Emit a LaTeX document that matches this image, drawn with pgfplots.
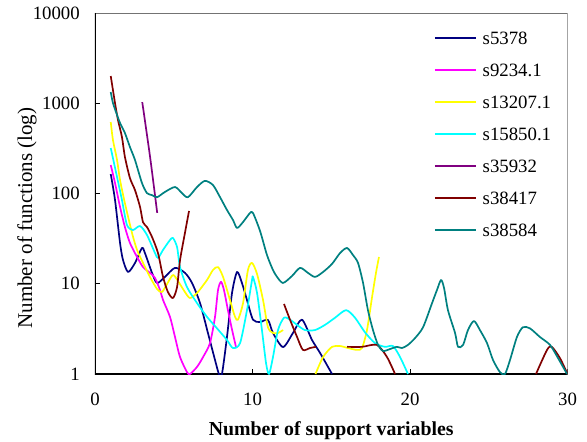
\documentclass[border=0pt]{standalone}
\usepackage{fontspec}
\setmainfont{Liberation Serif}
\usepackage{pgfplots}
\pgfplotsset{compat=1.18}
\definecolor{cNavy}{RGB}{0,0,128}
\definecolor{cMag}{RGB}{255,0,255}
\definecolor{cYel}{RGB}{255,255,0}
\definecolor{cCyan}{RGB}{0,255,255}
\definecolor{cPurp}{RGB}{128,0,128}
\definecolor{cDRed}{RGB}{128,0,0}
\definecolor{cTeal}{RGB}{0,128,128}
\newcommand\tickfont{\fontsize{18.8bp}{22bp}\selectfont}
\newcommand\xlabfont{\fontsize{19.8bp}{22bp}\selectfont\bfseries}
\newcommand\ylabfont{\fontsize{21bp}{24bp}\selectfont}
\begin{document}
\begin{tikzpicture}
\useasboundingbox (-95bp,-68bp) rectangle (492bp,374bp);
\begin{axis}[
  at={(0,0)}, anchor=south west,
  scale only axis, width=472.5bp, height=361bp,
  ymode=log, xmin=0, xmax=30, ymin=1, ymax=10000,
  xtick={0,10,20,30}, xticklabels={0,10,20,30},
  ytick={1,10,100,1000,10000}, yticklabels={1,10,100,1000,10000},
  yminorticks=false,
  tick align=inside, xtick pos=bottom, ytick pos=left,
  major tick length=5bp,
  tick style={black, line width=0.8bp},
  axis line style={draw=none},
  tick label style={font=\tickfont, inner sep=0pt},
  xticklabel style={anchor=north, yshift=-19bp},
  yticklabel style={anchor=east, xshift=-15bp},
  xlabel={Number of support variables},
  xlabel style={font=\xlabfont, at={(axis description cs:0.5,-0.169)}, anchor=base},
  ylabel={Number of functions (log)},
  ylabel style={font=\ylabfont, at={(axis description cs:-0.1333,0.432)}, anchor=base},
  unbounded coords=jump,
  every axis plot/.append style={line width=1.7bp, line join=round, smooth, tension=0.45},
  legend cell align=left,
  legend image code/.code={\draw[#1, line width=1.7bp] (0bp,0bp) -- (41bp,0bp);},
  legend style={draw=none, fill=none, inner sep=0pt, outer sep=0pt,
    at={(axis description cs:0,1)}, anchor=north west, xshift=339bp, yshift=-18.5bp,
    font=\tickfont, row sep=19bp, column sep=6bp,
    nodes={inner sep=0pt, text height=13bp, text depth=0bp}},
]
\draw[black!55, line width=0.9bp] (rel axis cs:0,1) -- (rel axis cs:1,1) -- (rel axis cs:1,0);
\draw[black, line width=1.8bp] (rel axis cs:0,1) -- (rel axis cs:0,0) -- (rel axis cs:1,0);

\addplot[cNavy] coordinates {(1,164)(1.27,85)(1.59,28.3)(1.78,18.3)(2.1,13.5)(2.54,17)(2.98,24.9)(3.17,21.9)(3.62,13.2)(3.94,10.2)(4.44,11.9)(5.08,15)(5.71,13.2)(6.16,10.2)(6.67,6.1)(7.17,2.85)(7.62,1.43)(7.87,1)(8.06,1)(8.38,2.57)(8.7,7.9)(9.02,13.5)(9.33,10.2)(9.65,6.6)(10.03,4.0)(10.48,3.77)(10.98,3.97)(11.3,2.85)(11.94,1.99)(12.57,2.85)(13.14,4.0)(13.78,2.38)(14.29,1.71)(15.05,1)};
\addlegendentry{s5378}
\addplot[cMag] coordinates {(1,207)(1.27,131)(1.59,71)(1.9,42.5)(2.22,28.3)(2.67,19.8)(3.05,15.3)(3.49,13.2)(3.81,11.6)(4.13,8.5)(4.32,6.6)(4.76,4.3)(5.08,2.57)(5.4,1.54)(5.84,1.05)(6.03,1)(6.48,1.2)(6.86,1.54)(7.3,2.2)(7.62,4.3)(7.81,8.5)(8,10.5)(8.19,8.5)(8.44,5.1)(8.7,3.1)(8.95,2.0)};
\addlegendentry{s9234.1}
\addplot[cYel] coordinates {(1,620)(1.14,392)(1.4,235)(1.59,141)(1.9,78)(2.35,36.5)(2.67,23.7)(3.05,17)(3.49,11.9)(3.94,8.75)(4.25,8.1)(4.57,9.9)(4.95,12.5)(5.27,10.7)(5.71,8.1)(6.03,6.95)(6.48,7.9)(7.11,11)(7.49,14.2)(7.81,15.3)(8.13,11.9)(8.57,6.6)(8.89,4.3)(9.08,4.0)(9.4,6.1)(9.71,14.2)(9.97,17)(10.29,12.8)(10.67,6.6)(10.98,3.3)(11.3,2.85)(11.62,2.85)(11.94,3.07)(13,nan)(14,1)(14.48,1.54)(15.05,2.0)(15.56,2.04)(16.06,1.94)(16.63,1.85)(16.95,1.94)(17.27,3.07)(17.59,7.1)(17.84,13.2)(18.03,19.8)};
\addlegendentry{s13207.1}
\addplot[cCyan] coordinates {(1,319)(1.4,152)(1.71,85)(2.03,44.8)(2.41,39.4)(2.86,43.6)(3.3,34.7)(3.81,21.9)(4.0,19.3)(4.32,23.7)(4.76,30.5)(4.95,32.1)(5.21,25.5)(5.4,15.3)(5.84,9.2)(6.48,6.1)(7.11,4.3)(7.75,3.2)(8.38,2.38)(8.76,1.94)(9.21,2.2)(9.65,5.1)(9.97,11)(10.03,11.9)(10.29,7.9)(10.6,3.07)(10.86,1.32)(11.05,1)(11.3,1.54)(11.62,3.07)(12,4.2)(12.38,4.0)(12.83,3.5)(13.33,3.07)(13.97,3.07)(14.6,3.5)(15.24,4.2)(15.94,5.1)(16.51,4.2)(17.14,2.9)(17.78,2.2)(18.41,2.0)(18.92,2.04)(19.37,1.54)(19.87,1)};
\addlegendentry{s15850.1}
\addplot[cPurp] coordinates {(3,1030)(3.5,252)(3.95,61)};
\addlegendentry{s35932}
\addplot[cDRed] coordinates {(1,2004)(1.27,1006)(1.46,652)(1.71,423)(1.9,254)(2.22,148)(2.54,109)(2.86,71)(3.05,48)(3.3,42.5)(3.62,33)(4.0,21.9)(4.32,11.9)(4.63,8.1)(4.95,6.95)(5.21,9.2)(5.4,18.3)(5.71,36.5)(5.97,64)(9,nan)(12,5.97)(12.38,4.0)(12.83,2.57)(13.2,1.85)(13.65,1.94)(14.03,2.0)(15,nan)(16,2.0)(16.95,2.0)(17.9,2.1)(18.54,1.54)(19.05,1)(23,nan)(28,1)(28.7,1.85)(29,2.0)(29.52,1.5)(30,1)};
\addlegendentry{s38417}
\addplot[cTeal] coordinates {(1,1333)(1.14,1006)(1.4,741)(1.59,604)(1.9,468)(2.22,327)(2.54,235)(2.98,131)(3.3,101)(3.62,96)(3.94,91)(4.44,104)(5.08,118)(5.52,101)(5.9,91)(6.48,118)(6.98,138)(7.49,124)(7.94,91)(8.38,65.6)(8.76,50.9)(9.02,41.5)(9.4,48.3)(9.84,60.8)(10.03,60.8)(10.48,38.4)(10.92,20.8)(11.3,14.2)(11.56,11.9)(11.94,10.2)(12.51,12.2)(13.02,15)(13.52,13.2)(13.97,11.9)(14.48,13.5)(15.05,16.6)(15.56,21.9)(16.0,24.9)(16.38,20.8)(16.7,17)(17.02,10.2)(17.33,5.1)(17.65,3.07)(17.97,2.1)(18.29,1.8)(18.73,1.89)(19.17,2.0)(19.49,1.94)(19.87,2.1)(20.32,2.5)(20.83,3.3)(21.4,6.1)(21.71,8.5)(21.97,11)(22.16,9.0)(22.41,5.1)(22.86,2.85)(23.05,2.0)(23.37,2.1)(23.68,3.07)(24.06,3.87)(24.44,3.07)(24.89,2.2)(25.27,1.43)(25.71,1.05)(26.03,1)(26.35,1.43)(26.79,2.57)(27.17,3.3)(27.62,3.2)(28.25,2.57)(28.89,2.1)(29.4,1.5)(29.97,1)};
\addlegendentry{s38584}
\end{axis}
\end{tikzpicture}
\end{document}
